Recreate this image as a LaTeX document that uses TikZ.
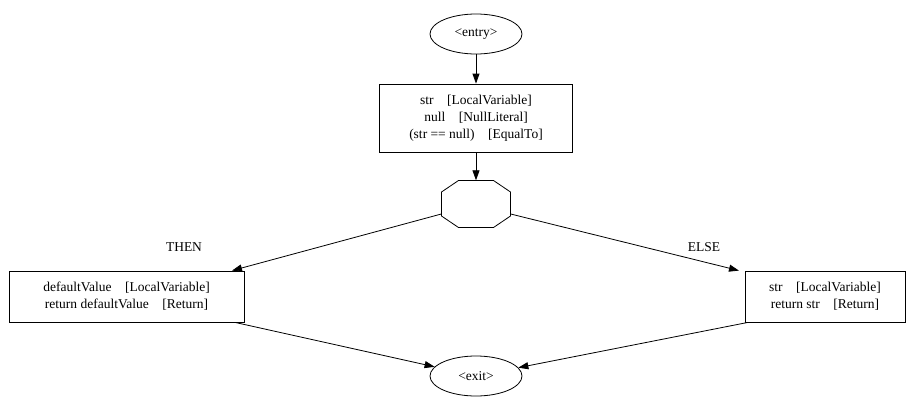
\documentclass[tikz,border=0pt]{standalone}
\usepackage{fontspec}
\setmainfont{Liberation Serif}
\usetikzlibrary{arrows.meta,shapes.geometric,calc}
\begin{document}
\begin{tikzpicture}[x=1pt,y=-1pt,
  every node/.style={font=\fontsize{13.5}{17}\selectfont},
  box/.style={draw,thick,align=center,inner xsep=6pt,inner ysep=4pt},
  ell/.style={draw,thick,ellipse,minimum width=92pt,minimum height=40pt,inner sep=0pt},
  arr/.style={thick,-{Triangle[length=10pt,width=7pt]}},
  lab/.style={}]
\useasboundingbox (0,0) rectangle (916,407);
\node[ell] (entry) at (476,34) {<entry>};
\node[box,minimum width=193pt,minimum height=68pt] (b1) at (476,118) {str\quad[LocalVariable]\\null\quad[NullLiteral]\\(str == null)\quad[EqualTo]};
\node[minimum width=69pt,minimum height=47pt,inner sep=0pt] (oct) at (476,204) {};
\draw[thick] ($(oct)+(-17.5,-23.5)$) -- ++(35,0) -- ++(17,11.5) -- ++(0,24) -- ++(-17,11.5) -- ++(-35,0) -- ++(-17,-11.5) -- ++(0,-24) -- cycle;
\node[box,minimum width=235pt,minimum height=51pt] (L) at (126.5,296.5) {defaultValue\quad[LocalVariable]\\return defaultValue\quad[Return]};
\node[box,minimum width=160pt,minimum height=51pt] (R) at (825,296.5) {str\quad[LocalVariable]\\return str\quad[Return]};
\node[ell] (exit) at (476,376) {<exit>};
\node[lab] (then) at (184,247) {THEN};
\node[lab] (else) at (704,247) {ELSE};
\draw[arr] (entry) -- (b1);
\draw[arr] (b1) -- (oct);
\draw[arr] ($(oct.west)+(0,10)$) -- ($(L.north)+(105.5,0)$);
\draw[arr] ($(oct.east)+(0,10)$) -- ($(R.north)+(-86,0)$);
\draw[arr] ($(L.south)+(108.5,0)$) -- (exit);
\draw[arr] ($(R.south)+(-77,0)$) -- (exit);
\end{tikzpicture}
\end{document}
